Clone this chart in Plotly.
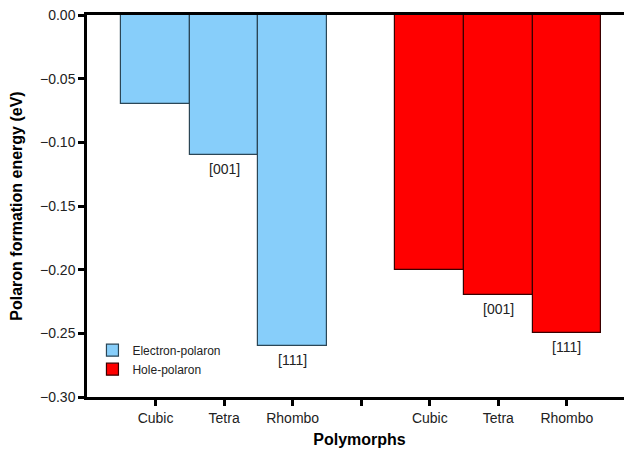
import plotly.graph_objects as go

polymorphs = ["Cubic", "Tetra", "Rhombo"]
electron_polaron = [-0.070, -0.110, -0.260]
hole_polaron = [-0.200, -0.220, -0.250]
orientation_labels = ["", "[001]", "[111]"]

electron_pos = [1, 2, 3]
hole_pos = [5, 6, 7]

FONT = "Arial, Liberation Sans, Helvetica, sans-serif"

fig = go.Figure()
fig.add_trace(go.Bar(
    x=electron_pos, y=electron_polaron, width=1.0, name="Electron-polaron",
    marker=dict(color="#87CEFA", line=dict(color="#2b4656", width=1.2)),
))
fig.add_trace(go.Bar(
    x=hole_pos, y=hole_polaron, width=1.0, name="Hole-polaron",
    marker=dict(color="#FF0000", line=dict(color="#3a0000", width=1.2)),
))

for xs, ys in ((electron_pos, electron_polaron), (hole_pos, hole_polaron)):
    for xv, yv, lab in zip(xs, ys, orientation_labels):
        if lab:
            fig.add_annotation(x=xv, y=yv, text=lab, showarrow=False,
                               yanchor="top", yshift=-4,
                               font=dict(family=FONT, size=14, color="#222"))

fig.update_layout(
    width=632, height=457,
    margin=dict(l=79, r=8, t=7, b=68),
    plot_bgcolor="white", paper_bgcolor="white",
    font=dict(family=FONT, size=14, color="black"),
    barmode="overlay",
    bargap=0,
    legend=dict(x=0.01, y=0.035, xanchor="left", yanchor="bottom",
                font=dict(family=FONT, size=12, color="#222"), bgcolor="rgba(0,0,0,0)",
                tracegroupgap=2, itemwidth=30),
    xaxis=dict(
        range=[0, 7.95],
        tickvals=electron_pos + [4] + hole_pos,
        ticktext=polymorphs + [""] + polymorphs,
        ticks="outside", ticklen=6, tickwidth=2.5, tickcolor="black",
        showline=True, linewidth=2.5, linecolor="black", mirror=True,
        showgrid=False, zeroline=False, automargin=False,
        tickfont=dict(size=14, color="#222"),
        title=dict(text="<b>Polymorphs</b>", font=dict(size=16), standoff=10),
    ),
    yaxis=dict(
        range=[-0.30, 0.0],
        tickvals=[0, -0.05, -0.10, -0.15, -0.20, -0.25, -0.30],
        tickformat=".2f",
        ticks="outside", ticklen=6, tickwidth=2.5, tickcolor="black",
        showline=True, linewidth=2.5, linecolor="black",
        showgrid=False, zeroline=False, automargin=False,
        ticklabeloverflow="allow",
        tickfont=dict(size=14, color="#222"),
        title=dict(text="<b>Polaron formation energy (eV)</b>", font=dict(size=16), standoff=15),
    ),
)

fig.write_html("out.html")
